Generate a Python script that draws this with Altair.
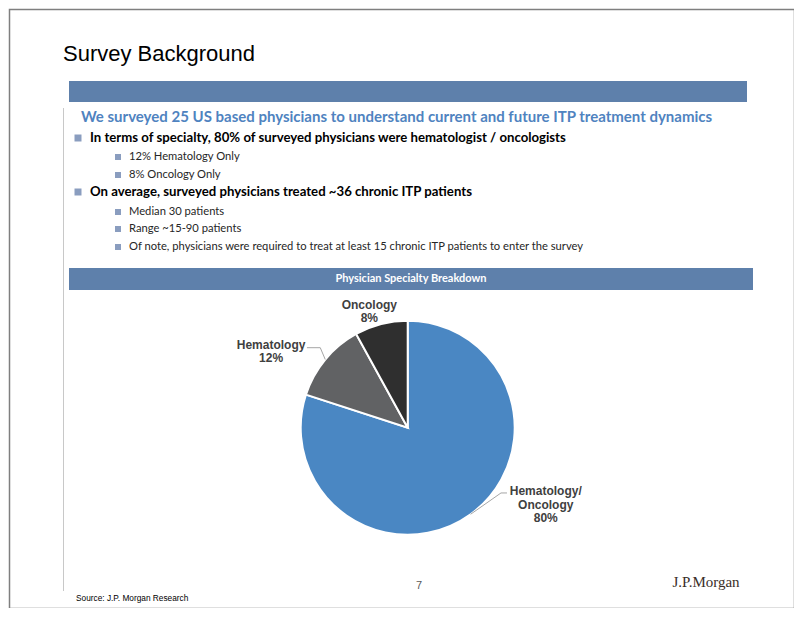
import math
import altair as alt
import pandas as pd

# ---------------- data ----------------
categories = ["Hematology/\nOncology", "Hematology", "Oncology"]
shares = [80, 12, 8]
slice_colors = ["#4a87c3", "#616264", "#2f2f2f"]

title_text = "Survey Background"
heading_text = "We surveyed 25 US based physicians to understand current and future ITP treatment dynamics"
bullet_levels = [0, 1, 1, 0, 1, 1, 1]
bullet_texts = [
    "In terms of specialty, 80% of surveyed physicians were hematologist / oncologists",
    "12% Hematology Only",
    "8% Oncology Only",
    "On average, surveyed physicians treated ~36 chronic ITP patients",
    "Median 30 patients",
    "Range ~15-90 patients",
    "Of note, physicians were required to treat at least 15 chronic ITP patients to enter the survey",
]
panel_title = "Physician Specialty Breakdown"
source_text = "Source: J.P. Morgan Research"
page_number = "7"
brand_text = "J.P.Morgan"

# ---------------- layout ----------------
W, H = 786, 600
CX, CY, R = 398.7, 418.7, 107
bullet_y = [129, 148, 166, 183, 203, 220, 238]
BODY_FONT = "Lato"
LABEL_FONT = "Liberation Sans"

one = pd.DataFrame({"k": [0]})


def text_layer(s, x, y, **kw):
    return alt.Chart(one).mark_text(text=s, **kw).encode(x=alt.value(x), y=alt.value(y))


def rect_layer(x, x2, y, y2, **kw):
    return alt.Chart(one).mark_rect(**kw).encode(
        x=alt.value(x), x2=alt.value(x2), y=alt.value(y), y2=alt.value(y2))


layers = []
# slide frame
layers.append(rect_layer(0.5, W - 0.5, 0.5, H - 0.5, fill="white", stroke="#7f7f7f", strokeWidth=1.5))
# title
layers.append(text_layer(title_text, 54, 52, align="left", baseline="alphabetic",
                         font=LABEL_FONT, fontSize=22, color="#000000"))
# top banner
layers.append(rect_layer(60, 738, 72, 93, fill="#5e80ab"))
# thin vertical rule
layers.append(alt.Chart(one).mark_rule(color="#c8c8c8", strokeWidth=1).encode(
    x=alt.value(54.5), y=alt.value(99), y2=alt.value(582)))
# heading
layers.append(text_layer(heading_text, 72, 113, align="left", baseline="alphabetic",
                         font=BODY_FONT, fontSize=15, fontWeight="bold", color="#4f83c0"))
# bullets
for lvl, s, y in zip(bullet_levels, bullet_texts, bullet_y):
    if lvl == 0:
        mx, ms, tx = 69, 7, 81
        layers.append(rect_layer(mx - ms / 2, mx + ms / 2, y - ms / 2, y + ms / 2, fill="#8a9dbf"))
        layers.append(text_layer(s, tx, y, align="left", baseline="middle", font=BODY_FONT,
                                 fontSize=13.2, fontWeight="bold", color="#000000"))
    else:
        mx, ms, tx = 109, 6, 120
        layers.append(rect_layer(mx - ms / 2, mx + ms / 2, y - ms / 2, y + ms / 2, fill="#8a9dbf"))
        layers.append(text_layer(s, tx, y, align="left", baseline="middle", font=BODY_FONT,
                                 fontSize=11.2, color="#262626"))
# panel banner
layers.append(rect_layer(60, 744, 259, 281, fill="#5e80ab"))
layers.append(text_layer(panel_title, 402, 270, align="center", baseline="middle",
                         font=BODY_FONT, fontSize=11, fontWeight="bold", color="white"))

# ---------------- pie ----------------
pie_df = pd.DataFrame({"cat": categories, "value": shares, "idx": list(range(len(shares)))})
theta_scale = alt.Scale(domain=[0, 100], range=[0, 2 * math.pi])

pie = alt.Chart(pie_df).mark_arc(outerRadius=R, stroke="white", strokeWidth=2).encode(
    theta=alt.Theta("value:Q", stack=True, scale=theta_scale),
    color=alt.Color("cat:N", scale=alt.Scale(domain=categories, range=slice_colors), legend=None),
    order=alt.Order("idx:Q"),
    x=alt.value(CX), y=alt.value(CY),
)
layers.append(pie)

# leader lines (edge point from the data, elbows are layout offsets)
leader_offsets = {0: [(30.4, -21.3), (36.4, -21.3)], 1: [(-5.0, -11.8), (-18.3, -11.8)]}
rows = []
cum = 0
for i, v in enumerate(shares):
    mid = (cum + v / 2) / 100 * 2 * math.pi
    cum += v
    if i in leader_offsets:
        ex, ey = CX + R * math.sin(mid), CY - R * math.cos(mid)
        rows.append({"cat": str(i), "k": 0, "px": ex, "py": ey})
        for j, (ox, oy) in enumerate(leader_offsets[i]):
            rows.append({"cat": str(i), "k": j + 1, "px": ex + ox, "py": ey + oy})
leaders = alt.Chart(pd.DataFrame(rows)).mark_line(color="#a6a6a6", strokeWidth=1).encode(
    x=alt.X("px:Q", scale=None), y=alt.Y("py:Q", scale=None),
    detail="cat:N", order="k:Q")
layers.append(leaders)

# slice labels
label_place = {0: (143, 54, -52), 1: (150, -21, 13), 2: (122, -8, -5)}
for i, (rad, dx, dy) in label_place.items():
    lab = alt.Chart(pie_df).transform_window(
        cum="sum(value)", sort=[alt.SortField("idx")]
    ).transform_calculate(
        mid="datum.cum - datum.value / 2",
        lbl="datum.cat + '\\n' + datum.value + '%'",
    ).transform_filter(f"datum.idx == {i}").mark_text(
        radius=rad, dx=dx, dy=dy, align="center", baseline="middle", lineBreak="\n",
        font=LABEL_FONT, fontSize=12, fontWeight="bold", color="#404040", lineHeight=13.3,
    ).encode(
        theta=alt.Theta("mid:Q", scale=theta_scale),
        text="lbl:N",
        x=alt.value(CX), y=alt.value(CY),
    )
    layers.append(lab)

# footer
layers.append(text_layer(page_number, 410, 577, align="center", baseline="middle",
                         font=LABEL_FONT, fontSize=11, color="#595959"))
layers.append(text_layer(source_text, 67, 590, align="left", baseline="middle",
                         font=LABEL_FONT, fontSize=8.3, color="#000000"))
layers.append(text_layer(brand_text, 697, 573, align="center", baseline="middle",
                         font="Liberation Serif", fontSize=15, color="#3a2e28"))

chart = alt.layer(*layers).properties(
    width=W, height=H, padding=0,
    autosize=alt.AutoSizeParams(type="fit", contains="padding"),
).configure_view(stroke=None)

chart.save("out.html", embed_options={"renderer": "svg", "actions": False})
